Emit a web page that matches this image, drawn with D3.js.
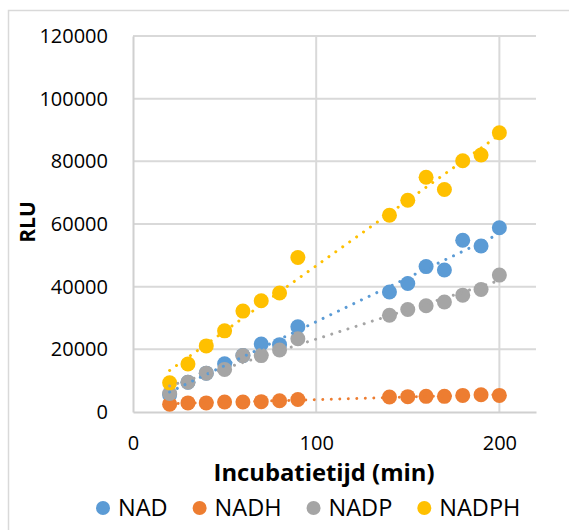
<!DOCTYPE html>
<html>
<head>
  <meta charset='utf-8'>
  <title>RLU vs incubatietijd</title>
  <script src="https://cdnjs.cloudflare.com/ajax/libs/d3/7.8.5/d3.min.js"></script>
  <style>
    body { margin: 0; background: #fff; }
    text { font-family: "Open Sans", Lato, sans-serif; fill: #000; }
  </style>
</head>
<body>
  <svg width="569" height="530" id="chart"></svg>
  <script>
    // incubation time (min)
    const times = [20, 30, 40, 50, 60, 70, 80, 90, 140, 150, 160, 170, 180, 190, 200];

    // RLU per series
    const nad   = [5500, 9500, 12400, 15400, 18000, 21700, 21500, 27200, 38300, 41000, 46400, 45300, 54800, 53000, 58800];
    const nadh  = [2500, 2900, 2900, 3200, 3200, 3300, 3600, 4000, 4800, 4900, 5000, 5000, 5300, 5500, 5300];
    const nadp  = [5900, 9500, 12400, 13600, 18000, 18000, 19800, 23400, 30900, 32700, 33900, 35100, 37300, 39100, 43700];
    const nadph = [9300, 15300, 21100, 25900, 32200, 35500, 38000, 49300, 62800, 67600, 74900, 71000, 80200, 82000, 89100];

    const seriesNames = ['NAD', 'NADH', 'NADP', 'NADPH'];
    const seriesValues = [nad, nadh, nadp, nadph];
    const colors = ['#5B9BD5', '#ED7D31', '#A5A5A5', '#FFC000'];

    const xTicks = [0, 100, 200];
    const yTicks = [0, 20000, 40000, 60000, 80000, 100000, 120000];

    const svg = d3.select('#chart');

    // chart area border (runs off the window on right/bottom)
    svg.append('rect')
      .attr('x', 8.5).attr('y', 10.5)
      .attr('width', 600).attr('height', 600)
      .attr('fill', 'none')
      .attr('stroke', '#D9D9D9')
      .attr('stroke-width', 1.5);

    const x = d3.scaleLinear().domain([0, 220]).range([133, 536]);
    const y = d3.scaleLinear().domain([0, 120000]).range([412, 36]);

    // gridlines
    svg.append('g')
      .selectAll('line')
      .data(yTicks.slice(1))
      .join('line')
      .attr('x1', x(0)).attr('x2', x(220))
      .attr('y1', d => y(d)).attr('y2', d => y(d))
      .attr('stroke', '#D9D9D9').attr('stroke-width', 2);

    svg.append('g')
      .selectAll('line')
      .data(xTicks.slice(1))
      .join('line')
      .attr('x1', d => x(d)).attr('x2', d => x(d))
      .attr('y1', y(0)).attr('y2', y(120000))
      .attr('stroke', '#D9D9D9').attr('stroke-width', 2);

    // axes
    const yAxis = svg.append('g')
      .attr('transform', `translate(${x(0)},0)`)
      .call(d3.axisLeft(y).tickValues(yTicks).tickSize(0).tickPadding(25).tickFormat(d3.format('d')));
    const xAxis = svg.append('g')
      .attr('transform', `translate(0,${y(0)})`)
      .call(d3.axisBottom(x).tickValues(xTicks).tickSize(0).tickPadding(24).tickFormat(d3.format('d')));

    [xAxis, yAxis].forEach(ax => {
      ax.select('.domain').attr('stroke', '#D0D0D0').attr('stroke-width', 2);
      ax.selectAll('text').style('font-size', '20px').attr('fill', '#000');
    });

    // markers
    seriesValues.forEach((vals, si) => {
      svg.append('g')
        .selectAll('circle')
        .data(vals)
        .join('circle')
        .attr('cx', (d, i) => x(times[i]))
        .attr('cy', d => y(d))
        .attr('r', 7.5)
        .attr('fill', colors[si]);
    });

    // linear trendlines, drawn above all markers
    function linFit(xs, ys) {
      const mx = d3.mean(xs), my = d3.mean(ys);
      const sxy = d3.sum(xs, (v, i) => (v - mx) * (ys[i] - my));
      const sxx = d3.sum(xs, v => (v - mx) * (v - mx));
      const b = sxy / sxx;
      return [b, my - b * mx];
    }

    seriesValues.forEach((vals, si) => {
      const [b, a] = linFit(times, vals);
      const ends = d3.extent(times);
      svg.append('line')
        .attr('x1', x(ends[0])).attr('y1', y(a + b * ends[0]))
        .attr('x2', x(ends[1])).attr('y2', y(a + b * ends[1]))
        .attr('stroke', colors[si])
        .attr('stroke-width', 3)
        .attr('stroke-linecap', 'round')
        .attr('stroke-dasharray', '0.01 8.5');
    });

    // axis titles
    svg.append('text')
      .attr('x', 324).attr('y', 480.5)
      .attr('text-anchor', 'middle')
      .style('font-size', '23.8px').style('font-weight', 'bold')
      .text('Incubatietijd (min)');

    svg.append('text')
      .attr('transform', 'translate(35,222) rotate(-90)')
      .attr('text-anchor', 'middle')
      .style('font-size', '21px').style('font-weight', 'bold')
      .text('RLU');

    // legend
    const legend = svg.append('g');
    let lx = 103;
    seriesNames.forEach((name, i) => {
      legend.append('circle')
        .attr('cx', lx).attr('cy', 508).attr('r', 7)
        .attr('fill', colors[i]);
      const t = legend.append('text')
        .attr('x', lx + 15).attr('y', 515.5)
        .style('font-size', '23.5px')
        .text(name);
      lx += 15 + t.node().getComputedTextLength() + 32;
    });
  </script>
</body>
</html>
